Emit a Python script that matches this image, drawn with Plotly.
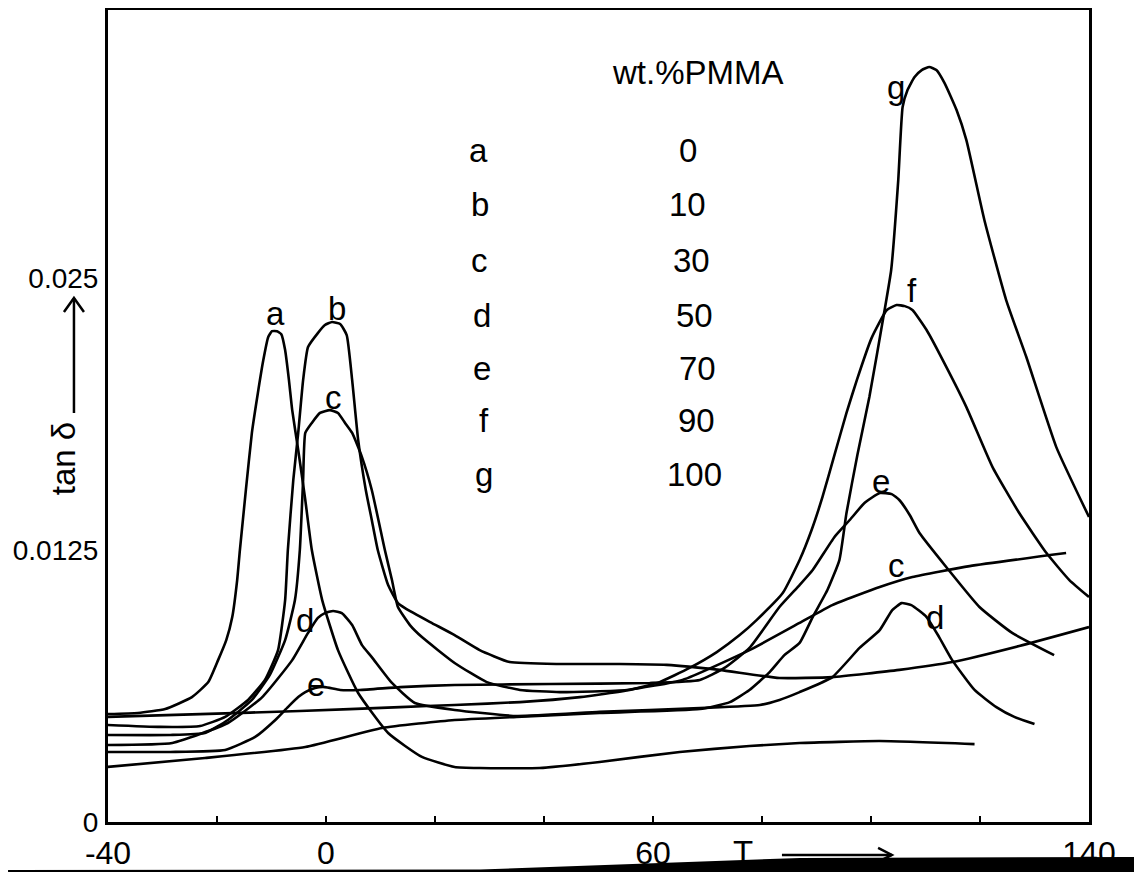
import plotly.graph_objects as go

# ---- data: temperature T (deg C) and tan delta for each blend ----
a_T = [-40.1, -34.5, -29.5, -24.6, -21.6, -19.8, -18.3, -17.2, -16.3, -15.8, -14.7, -13.6, -12.5, -11.5, -10.6, -9.9, -9.0, -8.2, -7.5, -6.8, -6.2, -5.1, -3.8, -2.6, -0.7, 2.2, 5.9, 11.4, 17.6, 23.6, 28.2, 39.2, 50.2, 64.9, 77.7, 86.9, 101.6, 119.0]
a_tan = [0.00496, 0.00501, 0.00519, 0.00574, 0.00643, 0.00744, 0.00836, 0.00942, 0.01112, 0.01250, 0.01526, 0.01788, 0.01972, 0.02123, 0.02229, 0.02256, 0.02256, 0.02242, 0.02169, 0.02031, 0.01893, 0.01710, 0.01480, 0.01250, 0.01020, 0.00790, 0.00593, 0.00409, 0.00299, 0.00253, 0.00248, 0.00248, 0.00276, 0.00322, 0.00349, 0.00363, 0.00372, 0.00358]

b_T = [-40.1, -30.4, -23.1, -18.5, -14.3, -11.2, -8.8, -7.5, -7.0, -6.0, -5.1, -4.2, -3.3, -1.5, -0.2, 1.1, 2.6, 3.8, 4.8, 5.9, 7.3, 8.4, 9.5, 11.4, 13.2, 14.5, 19.1, 23.6, 28.2, 33.7, 42.9, 53.9, 62.5, 72.2, 83.2, 92.9, 105.2, 114.9, 127.2, 140.0]
b_tan = [0.00446, 0.00437, 0.00441, 0.00483, 0.00561, 0.00653, 0.00790, 0.01020, 0.01250, 0.01572, 0.01788, 0.02031, 0.02183, 0.02247, 0.02284, 0.02298, 0.02289, 0.02238, 0.02031, 0.01756, 0.01526, 0.01388, 0.01250, 0.01089, 0.01006, 0.00983, 0.00919, 0.00859, 0.00790, 0.00735, 0.00726, 0.00726, 0.00722, 0.00699, 0.00662, 0.00666, 0.00699, 0.00735, 0.00809, 0.00896]

c_T = [-40.1, -28.6, -22.2, -18.0, -13.6, -10.3, -7.5, -5.7, -4.8, -4.2, -3.8, -2.6, -1.1, 0.7, 2.2, 3.5, 4.8, 6.6, 8.4, 10.8, 12.1, 13.2, 15.4, 17.6, 23.6, 29.5, 35.6, 42.9, 55.2, 65.4, 77.7, 86.9, 92.9, 101.6, 107.6, 118.1, 135.8]
c_tan = [0.00400, 0.00400, 0.00409, 0.00469, 0.00561, 0.00676, 0.00836, 0.01020, 0.01250, 0.01572, 0.01788, 0.01834, 0.01880, 0.01893, 0.01880, 0.01834, 0.01788, 0.01677, 0.01526, 0.01250, 0.01112, 0.00988, 0.00905, 0.00850, 0.00731, 0.00643, 0.00607, 0.00597, 0.00607, 0.00653, 0.00790, 0.00915, 0.00997, 0.01080, 0.01126, 0.01176, 0.01236]

d_T = [-40.1, -28.2, -18.0, -11.7, -6.2, -3.3, -1.5, -0.2, 1.3, 2.9, 4.8, 6.6, 8.4, 12.1, 16.3, 23.6, 35.0, 50.2, 68.6, 79.6, 83.2, 86.9, 92.9, 97.9, 101.6, 103.9, 105.6, 107.4, 110.2, 112.5, 114.9, 119.0, 123.0, 126.3, 130.0]
d_tan = [0.00354, 0.00363, 0.00455, 0.00574, 0.00744, 0.00869, 0.00938, 0.00960, 0.00970, 0.00960, 0.00905, 0.00813, 0.00758, 0.00639, 0.00547, 0.00515, 0.00487, 0.00506, 0.00524, 0.00538, 0.00561, 0.00597, 0.00666, 0.00800, 0.00882, 0.00974, 0.01006, 0.00997, 0.00942, 0.00850, 0.00744, 0.00607, 0.00528, 0.00483, 0.00450]

e_T = [-40.1, -28.6, -18.5, -13.0, -9.3, -7.0, -5.1, -3.8, -2.0, -0.2, 2.6, 6.2, 13.6, 23.6, 41.1, 59.4, 68.6, 73.1, 77.7, 83.2, 86.9, 89.3, 93.3, 96.1, 98.8, 101.6, 103.8, 105.2, 107.1, 108.9, 113.8, 119.9, 125.9, 133.6]
e_tan = [0.00322, 0.00322, 0.00331, 0.00391, 0.00469, 0.00528, 0.00574, 0.00597, 0.00616, 0.00620, 0.00607, 0.00607, 0.00620, 0.00630, 0.00634, 0.00639, 0.00653, 0.00708, 0.00800, 0.00988, 0.01089, 0.01158, 0.01310, 0.01388, 0.01466, 0.01512, 0.01507, 0.01480, 0.01411, 0.01328, 0.01172, 0.00988, 0.00869, 0.00767]

f_T = [-40.1, -23.1, -4.8, 13.6, 23.6, 35.6, 46.6, 55.7, 61.2, 66.7, 71.7, 75.9, 79.0, 83.8, 86.9, 89.1, 91.1, 93.3, 95.5, 97.4, 100.1, 102.9, 104.7, 106.2, 107.6, 110.2, 112.5, 117.5, 122.3, 127.2, 132.2, 136.4, 140.0]
f_tan = [0.00483, 0.00496, 0.00510, 0.00528, 0.00538, 0.00551, 0.00574, 0.00607, 0.00643, 0.00708, 0.00781, 0.00859, 0.00928, 0.01052, 0.01204, 0.01342, 0.01494, 0.01687, 0.01880, 0.02031, 0.02224, 0.02353, 0.02376, 0.02371, 0.02353, 0.02261, 0.02155, 0.01907, 0.01631, 0.01420, 0.01236, 0.01112, 0.01034]

g_T = [-40.1, -22.2, -3.8, 10.3, 23.6, 35.0, 50.2, 68.6, 74.1, 77.7, 81.4, 84.1, 86.9, 89.3, 92.0, 94.2, 95.5, 97.5, 99.7, 102.4, 103.7, 105.0, 105.8, 106.7, 108.0, 109.3, 110.7, 112.0, 113.5, 115.7, 117.5, 120.8, 124.8, 128.5, 134.0, 140.0]
g_tan = [0.00253, 0.00294, 0.00345, 0.00432, 0.00469, 0.00483, 0.00501, 0.00519, 0.00551, 0.00607, 0.00689, 0.00767, 0.00823, 0.00942, 0.01066, 0.01204, 0.01420, 0.01687, 0.01953, 0.02339, 0.02537, 0.02950, 0.03286, 0.03364, 0.03424, 0.03456, 0.03470, 0.03456, 0.03396, 0.03272, 0.03134, 0.02767, 0.02399, 0.02137, 0.01723, 0.01402]

series_names = ["a", "b", "c", "d", "e", "f", "g"]
wt_pmma = ["0", "10", "30", "50", "70", "90", "100"]

x_tick_vals = [-40, 0, 60, 140]
x_tick_text = ["-40", "0", "60", "140"]
x_minor_vals = [-20, 20, 40, 80, 100, 120]
y_tick_vals = [0, 0.0125, 0.025]
y_tick_text = ["0", "0.0125", "0.025"]

FONT = "Liberation Sans, Arial, sans-serif"
FS = 33
curves = [(a_T, a_tan), (b_T, b_tan), (c_T, c_tan), (d_T, d_tan), (e_T, e_tan), (f_T, f_tan), (g_T, g_tan)]

fig = go.Figure()
for name, (xs, ys) in zip(series_names, curves):
    fig.add_trace(go.Scatter(x=xs, y=ys, mode="lines", name=name,
                             line=dict(color="black", width=2.6, shape="spline", smoothing=0.45),
                             showlegend=False))

def txt(x, y, t, **kw):
    d = dict(x=x, y=y, text=t, showarrow=False, xanchor="center", yanchor="middle",
             font=dict(size=FS, color="black", family=FONT))
    d.update(kw)
    return d

ann = []
# curve labels
curve_labels = [("a", -9.3, 0.02339), ("b", 2.0, 0.02362), ("c", 1.3, 0.01953), ("d", -3.8, 0.00928),
                ("e", -1.8, 0.00634), ("g", 104.5, 0.03378), ("f", 107.6, 0.02445), ("e", 101.9, 0.01563),
                ("c", 104.7, 0.01181), ("d", 111.8, 0.00942)]
for t, x, y in curve_labels:
    ann.append(txt(x, y, t))

# composition table
ann.append(txt(68.2, 0.03447, "wt.%PMMA"))
row_y = [0.03088, 0.02836, 0.02583, 0.02330, 0.02086, 0.01847, 0.01595]
letter_x = [27.9, 28.2, 28.2, 28.6, 28.6, 29.0, 29.0]
num_x = [66.4, 66.4, 67.1, 67.6, 68.2, 68.0, 67.7]
for i in range(7):
    ann.append(txt(letter_x[i], row_y[i], series_names[i]))
    ann.append(txt(num_x[i], row_y[i], wt_pmma[i]))

# axis titles
ann.append(txt(-0.0459, 0.448, "tan δ", xref="paper", yref="paper", textangle=-90))
ann.append(txt(0.647, -0.037, "T", xref="paper", yref="paper"))

shapes = [
    # y-title arrow
    dict(type="line", xref="paper", yref="paper", x0=-0.0347, y0=0.5037, x1=-0.0347, y1=0.6453,
         line=dict(color="black", width=2.5)),
    dict(type="path", xref="paper", yref="paper",
         path="M -0.0449 0.6281 L -0.0347 0.6453 L -0.0245 0.6281", line=dict(color="black", width=2.5)),
    # x-title arrow
    dict(type="line", xref="paper", yref="paper", x0=0.687, y0=-0.0406, x1=0.799, y1=-0.0406,
         line=dict(color="black", width=2.5)),
    dict(type="path", xref="paper", yref="paper",
         path="M 0.785 -0.0320 L 0.799 -0.0406 L 0.785 -0.0492", line=dict(color="black", width=2.5)),
    # dark scan edge at the bottom
    dict(type="path", xref="paper", yref="paper", layer="above",
         path="M -0.1019 -0.0591 L 0.3792 -0.0585 L 0.7054 -0.0443 L 1.0540 -0.0431 L 1.0540 -0.0616 L -0.1019 -0.0616 Z",
         fillcolor="black", line=dict(color="black", width=0)),
]

# the page adds an 8 px body margin, so the figure is 8 px smaller than the window
fig.update_layout(
    width=1134, height=864,
    margin=dict(l=100, r=53, t=2, b=50, autoexpand=False),
    paper_bgcolor="white", plot_bgcolor="white",
    font=dict(family=FONT, size=FS, color="black"),
    annotations=ann, shapes=shapes,
    xaxis=dict(range=[-40, 140], showgrid=False, zeroline=False, showline=True, mirror=True, automargin=False,
               linecolor="black", linewidth=3, tickmode="array", tickvals=x_tick_vals, ticktext=x_tick_text,
               ticks="inside", ticklen=6, tickwidth=2, tickcolor="black", ticklabelstandoff=1,
               tickfont=dict(size=32, family=FONT, color="black"),
               minor=dict(tickmode="array", tickvals=x_minor_vals, ticks="inside", ticklen=6, tickwidth=2,
                          tickcolor="black", showgrid=False)),
    yaxis=dict(range=[0, 0.03732], showgrid=False, zeroline=False, showline=True, mirror=True, automargin=False,
               linecolor="black", linewidth=3, tickmode="array", tickvals=y_tick_vals, ticktext=y_tick_text,
               ticks="", ticklabelstandoff=1, tickfont=dict(size=28, family=FONT, color="black")),
)

fig.write_html("out.html")
